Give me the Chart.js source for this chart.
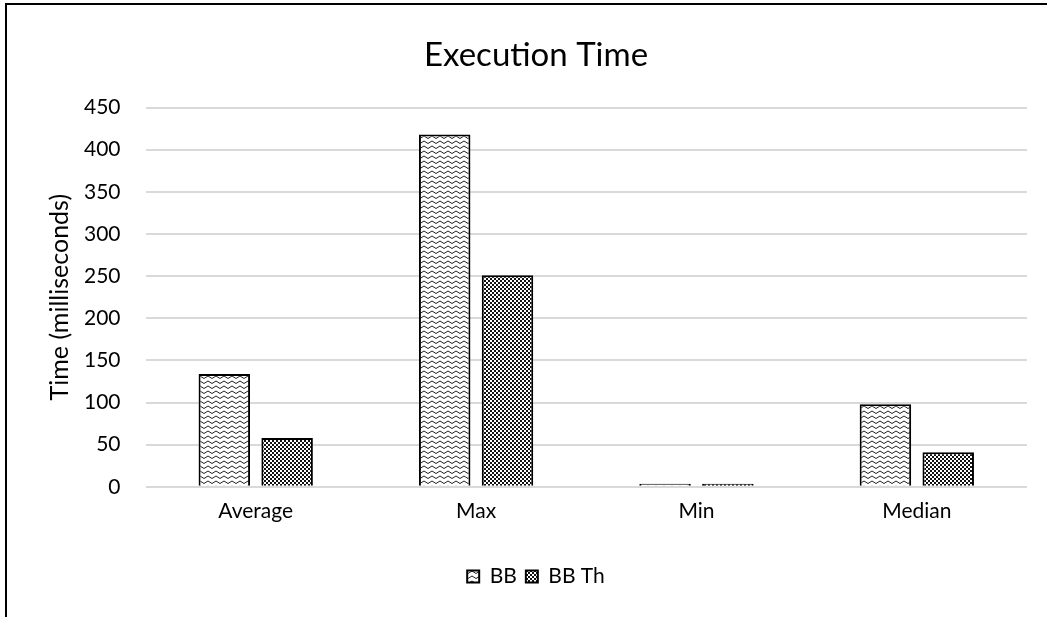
<!DOCTYPE html>
<html>
<head>
<meta charset="utf-8">
<script src="https://cdn.jsdelivr.net/npm/chart.js@4.4.0/dist/chart.umd.min.js"></script>
<style>
    html, body { margin: 0; padding: 0; background: #fff; overflow: hidden; }
    #moldura {
        position: absolute; left: 5px; top: 3px;
        width: 1100px; height: 700px;
        border-left: 2px solid #000; border-top: 2px solid #000;
    }
    #caixa { position: absolute; left: 0; top: 0; width: 1047px; height: 617px; }
</style>
</head>
<body>
<div id="moldura"></div>
<div id="caixa"><canvas id="myChart"></canvas></div>
<script>
    // dados do gráfico
    const categorias = ['Average', 'Max', 'Min', 'Median'];
    const valoresBB = [134, 418, 2, 98];
    const valoresBBTh = [58, 251, 2, 41];
    const ticksY = [0, 50, 100, 150, 200, 250, 300, 350, 400, 450];

    // padrão ondulado (BB)
    function padraoOnda() {
        var c = document.createElement('canvas');
        c.width = 8; c.height = 5;
        var ctx = c.getContext('2d');
        ctx.fillStyle = '#fff';
        ctx.fillRect(0, 0, 8, 5);
        ctx.strokeStyle = '#222';
        ctx.lineWidth = 1;
        ctx.beginPath();
        ctx.moveTo(0, 1);
        ctx.lineTo(4, 3.5);
        ctx.lineTo(8, 1);
        ctx.stroke();
        return ctx.createPattern(c, 'repeat');
    }

    // padrão xadrez (BB Th)
    function padraoXadrez() {
        var c = document.createElement('canvas');
        c.width = 4; c.height = 4;
        var ctx = c.getContext('2d');
        ctx.fillStyle = '#fff';
        ctx.fillRect(0, 0, 4, 4);
        ctx.fillStyle = '#111';
        ctx.fillRect(0, 0, 2, 2);
        ctx.fillRect(2, 2, 2, 2);
        return ctx.createPattern(c, 'repeat');
    }

    const fonte = 'Lato';

    const dados = {
        labels: categorias,
        datasets: [{
            label: 'BB',
            data: valoresBB,
            backgroundColor: padraoOnda(),
            borderColor: '#000',
            borderWidth: 2,
            minBarLength: 3,
            categoryPercentage: 0.57,
            barPercentage: 0.82
        }, {
            label: 'BB Th',
            data: valoresBBTh,
            backgroundColor: padraoXadrez(),
            borderColor: '#000',
            borderWidth: 2,
            minBarLength: 3,
            categoryPercentage: 0.57,
            barPercentage: 0.82
        }]
    };

    const config = {
        type: 'bar',
        data: dados,
        options: {
            responsive: true,
            maintainAspectRatio: false,
            animation: false,
            layout: { padding: { left: 45, right: 20, top: 20, bottom: 20 } },
            plugins: {
                title: {
                    display: true,
                    text: 'Execution Time',
                    color: '#000',
                    font: { family: fonte, size: 33, weight: 'normal' },
                    padding: { top: 16, bottom: 32 }
                },
                legend: {
                    position: 'bottom',
                    labels: {
                        color: '#000',
                        font: { family: fonte, size: 21 },
                        boxWidth: 12,
                        boxHeight: 12,
                        padding: 9
                    }
                },
                tooltip: { enabled: false }
            },
            scales: {
                x: {
                    grid: { display: false },
                    border: { display: false },
                    ticks: { color: '#000', font: { family: fonte, size: 21 }, padding: 4 },
                    afterFit: function (eixo) {
                        eixo.height += 29;
                    }
                },
                y: {
                    min: 0,
                    max: 450,
                    afterBuildTicks: function (eixo) {
                        eixo.ticks = ticksY.map(v => ({ value: v }));
                    },
                    afterFit: function (eixo) {
                        eixo.width -= 26;
                    },
                    grid: { color: '#d9d9d9', lineWidth: 2, drawTicks: false },
                    border: { display: false },
                    ticks: { color: '#000', font: { family: fonte, size: 21 }, padding: 25 },
                    title: {
                        display: true,
                        text: 'Time (milliseconds)',
                        color: '#000',
                        font: { family: fonte, size: 25 },
                        padding: { top: 0, bottom: 10 }
                    }
                }
            }
        }
    };

    const myChart = new Chart(document.getElementById('myChart'), config);
</script>
</body>
</html>
